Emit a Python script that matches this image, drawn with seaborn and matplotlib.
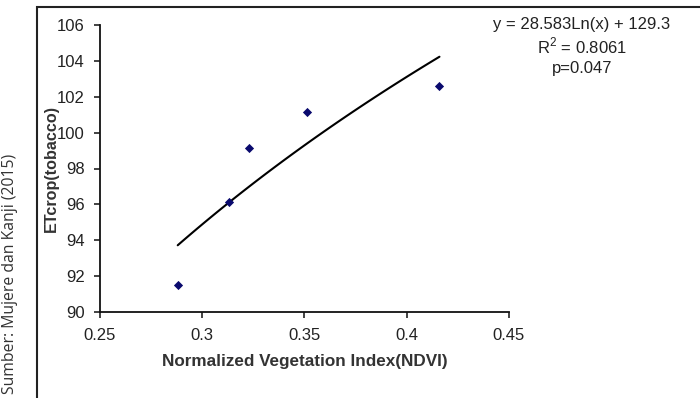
import numpy as np
import pandas as pd
import matplotlib
matplotlib.use("Agg")
import matplotlib.pyplot as plt
import seaborn as sns
from matplotlib.patches import Rectangle

# Data
ndvi = [0.288, 0.313, 0.323, 0.351, 0.416]
etcrop = [91.5, 96.15, 99.15, 101.15, 102.6]

# Logarithmic trendline y = a*ln(x) + b, as printed on the chart
trend_a = 28.583
trend_b = 129.3
trend_label = ["y = 28.583Ln(x) + 129.3", "R$^2$ = 0.8061", "p=0.047"]

x_ticks = [0.25, 0.3, 0.35, 0.4, 0.45]
x_ticklabels = ["0.25", "0.3", "0.35", "0.4", "0.45"]
y_ticks = [90, 92, 94, 96, 98, 100, 102, 104, 106]

sns.set_style("ticks")
plt.rcParams['font.family'] = ['Liberation Sans', 'DejaVu Sans']
plt.rcParams['mathtext.fontset'] = 'custom'
plt.rcParams['mathtext.rm'] = 'Liberation Sans'

fig = plt.figure(figsize=(7, 3.98), dpi=100)
ax = fig.add_axes([100 / 700, 1 - 312 / 398, 409 / 700, 287 / 398])

df = pd.DataFrame({"ndvi": ndvi, "etcrop": etcrop})

# trendline over the observed range
xs = np.linspace(min(ndvi), max(ndvi), 100)
trend = pd.DataFrame({"ndvi": xs, "etcrop": trend_a * np.log(xs) + trend_b})
sns.lineplot(data=trend, x="ndvi", y="etcrop", ax=ax, color="black", linewidth=1.5)
sns.scatterplot(data=df, x="ndvi", y="etcrop", ax=ax, marker="D", color="#0a0a6e",
                s=22, edgecolor="#0a0a6e", linewidth=0, zorder=3)

ax.set_xlim(0.25, 0.45)
ax.set_ylim(90, 106)
ax.set_xticks(x_ticks)
ax.set_xticklabels(x_ticklabels)
ax.set_yticks(y_ticks)
ax.tick_params(labelsize=12, colors="#222222", length=4.3, width=1.2, direction="out")
ax.tick_params(axis="y", pad=6.5)
ax.tick_params(axis="x", pad=7.5)
for side in ["left", "bottom"]:
    ax.spines[side].set_linewidth(1.3)
    ax.spines[side].set_color("#111111")
sns.despine(ax=ax)

ax.set_xlabel("Normalized Vegetation Index(NDVI)", fontsize=12.3, fontweight="bold",
              color="#333333", va="top")
ax.xaxis.set_label_coords(0.5, -0.146)
ax.set_ylabel("ETcrop(tobacco)", fontsize=11.6, fontweight="bold", color="#333333")
ax.yaxis.set_label_coords(-0.100, 0.5)

# trendline equation block
for i, line in enumerate(trend_label):
    fig.text(582 / 700, 1 - (24 + i * 22.5) / 398, line, ha="center", va="center",
             fontsize=12, color="#222222")

# outer frame and source note
fig.patches.append(Rectangle((37 / 700, -0.1), 1.0, 1 - 7 / 398 + 0.1,
                             transform=fig.transFigure, fill=False,
                             edgecolor="#222222", linewidth=1.5))
fig.text(10 / 700, 1 - 274 / 398, "Sumber: Mujere dan Kanji (2015)", rotation=90,
         ha="center", va="center", fontsize=11.3, color="#333333",
         family=["Open Sans", "DejaVu Sans"])

fig.savefig("out.png", dpi=100)
